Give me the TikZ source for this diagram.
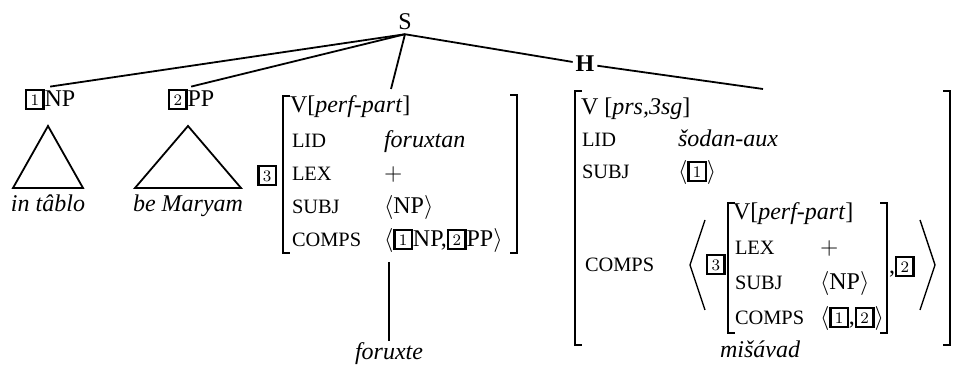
\documentclass[tikz,border=0pt]{standalone}
\usepackage{fontspec}
\setmainfont{Liberation Serif}[ItalicFont={Liberation Serif Italic},BoldFont={Liberation Serif Bold}]
\newfontfamily\scf{Liberation Serif}
\newcommand\sck[1]{{\scf\fontsize{10.2}{10}\selectfont #1}}
\newcommand\tg[1]{{\setlength\fboxsep{0pt}\setlength\fboxrule{1.1pt}\fbox{\makebox[7.6pt]{\rule[-0.3pt]{0pt}{8.4pt}\fontsize{8.5}{8.5}\selectfont\raisebox{0.6pt}{$#1$}}}}}
\newcommand\la{$\langle$}
\newcommand\ra{$\rangle$}
\begin{document}
\begin{tikzpicture}[x=0.5pt,y=-0.5pt,
  every node/.style={inner sep=0pt, outer sep=0pt, font=\fontsize{12}{14}\selectfont},
  lab/.style={anchor=base west},
  it/.style={font=\fontsize{12}{14}\selectfont\itshape},
  tree/.style={line width=0.9pt},
  brk/.style={line width=0.8pt},
  ang/.style={line width=0.7pt}]
\useasboundingbox (0,0) rectangle (953,367);

% tree top
\node[anchor=base, outer sep=2pt] (S) at (405,30) {S};
\node[lab, outer sep=1pt] (NP1) at (23,107) {\tg{1}NP};
\node[lab, outer sep=1pt] (PP2) at (166,107) {\tg{2}PP};
\coordinate (avmAtop) at (391,89);
\coordinate (avmBtop) at (763,89);
\node[font=\bfseries\fontsize{12}{12}\selectfont, fill=white, inner sep=1.5pt] (H) at (585,64) {H};
\draw[tree] (S.south) -- (NP1.north);
\draw[tree] (S.south) -- (PP2.north);
\draw[tree] (S.south) -- (avmAtop);
\draw[tree] (S.south) -- (H) -- (avmBtop);

% triangles
\draw[tree] (48,126) -- (13,188) -- (83,188) -- cycle;
\draw[tree] (188,126) -- (135,188) -- (241,188) -- cycle;
\node[anchor=base, it] (w1) at (48,212) {in tâblo};
\node[anchor=base, it] (w2) at (188,212) {be Maryam};

% AVM 1
\draw[brk] (290,96) -- (283,96) -- (283,253) -- (290,253);
\draw[brk] (510,95) -- (517,95) -- (517,253) -- (510,253);
\node[lab] (a1) at (290,113) {V[\textit{perf-part}]};
\node[lab] (a2l) at (292,148) {\sck{LID}};
\node[lab, it] (a2v) at (384,148) {foruxtan};
\node[lab] (a3l) at (292,181) {\sck{LEX}};
\node[lab] (a3v) at (384,181) {$+$};
\node[lab] (a4l) at (292,214) {\sck{SUBJ}};
\node[lab] (a4v) at (384,214) {\la NP\ra};
\node[lab] (a5l) at (292,247) {\sck{COMPS}};
\node[lab] (a5v) at (384,247) {\la\tg{1}NP,\tg{2}PP\ra};
\node[anchor=base east] (t3a) at (277,183) {\tg{3}};
\coordinate (avmAbot) at (389,262);
\node[anchor=base, it, outer sep=1pt] (fx) at (389,360) {foruxte};
\draw[tree] (avmAbot) -- (fx.north);

% AVM 2
\draw[brk] (582,91) -- (575,91) -- (575,345) -- (582,345);
\draw[brk] (943,91) -- (950,91) -- (950,345) -- (943,345);
\node[lab] (b1) at (581,115) {V [\textit{prs,3sg}]};
\node[lab] (b2l) at (582,147) {\sck{LID}};
\node[lab, it] (b2v) at (678,147) {šodan-aux};
\node[lab] (b3l) at (582,179) {\sck{SUBJ}};
\node[lab] (b3v) at (678,179) {\la\tg{1}\ra};
\node[lab] (b4l) at (585,272) {\sck{COMPS}};
\draw[ang] (705,220) -- (690,265) -- (705,310);
\node[lab] (t3b) at (706,272) {\tg{3}};
% inner AVM
\draw[brk] (735,203) -- (728,203) -- (728,333) -- (735,333);
\draw[brk] (880,203) -- (887,203) -- (887,333) -- (880,333);
\node[lab] (c1) at (733,220) {V[\textit{perf-part}]};
\node[lab] (c2l) at (735,255) {\sck{LEX}};
\node[lab] (c2v) at (820,255) {$+$};
\node[lab] (c3l) at (735,290) {\sck{SUBJ}};
\node[lab] (c3v) at (820,290) {\la NP\ra};
\node[lab] (c4l) at (735,325) {\sck{COMPS}};
\node[lab] (c4v) at (820,325) {\la\tg{1},\tg{2}\ra};
\node[lab] (c5) at (889,274) {,\tg{2}};
\draw[ang] (920,220) -- (935,265) -- (920,310);
\node[anchor=base, it] (mv) at (760,358) {mišávad};
\end{tikzpicture}
\end{document}
